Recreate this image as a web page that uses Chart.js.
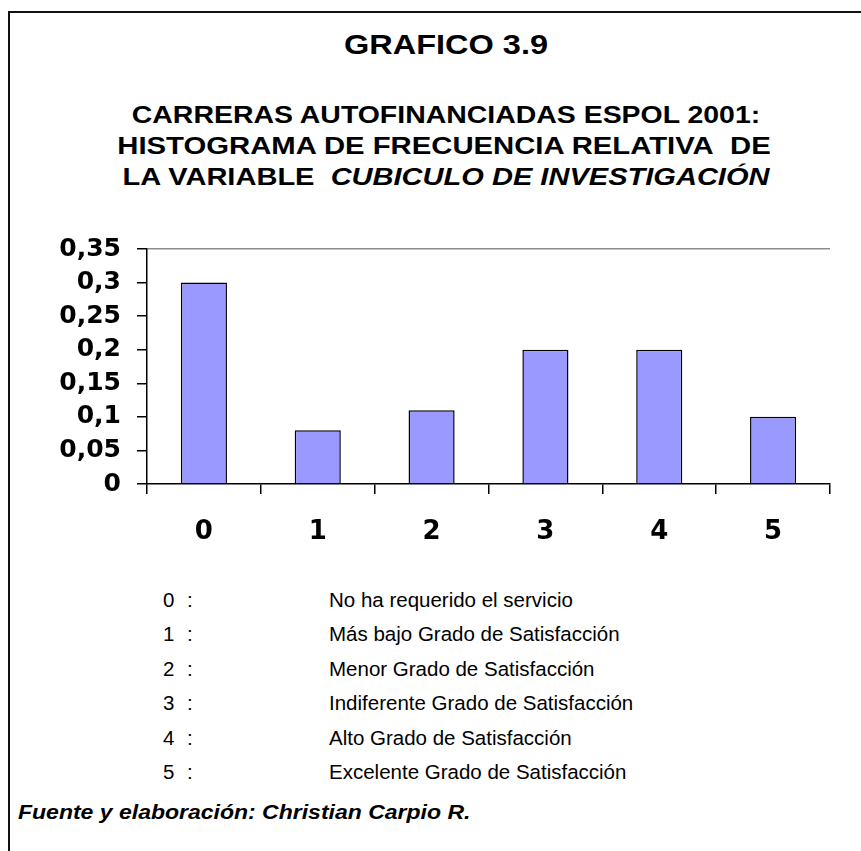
<!DOCTYPE html>
<html>
<head>
<meta charset="utf-8">
<script src="https://cdn.jsdelivr.net/npm/chart.js@4.4.1/dist/chart.umd.min.js"></script>
<style>
  html, body { margin: 0; padding: 0; background: #fff; }
  #page { position: relative; width: 861px; height: 851px; overflow: hidden; background: #fff; font-family: "Liberation Sans", Arial, sans-serif; color: #000; }
  #frameTop { position: absolute; left: 8px; top: 11px; width: 853px; height: 0; border-top: 2px solid #111; }
  #frameLeft { position: absolute; left: 8px; top: 11px; width: 0; height: 840px; border-left: 2px solid #111; }
  .ctr { position: absolute; white-space: nowrap; font-weight: bold; line-height: 1; }
  #chartBox { position: absolute; left: 0; top: 230px; width: 861px; height: 320px; }
  .legRow { position: absolute; font-size: 20.5px; white-space: nowrap; line-height: 1; transform: translateY(-50%); }
  #foot { position: absolute; left: 18px; top: 812px; transform-origin: 0 50%; transform: translateY(-50%) scaleX(1.15); font-weight: bold; font-style: italic; font-size: 20px; white-space: nowrap; line-height: 1; }
</style>
</head>
<body>
<div id="page">
  <div id="frameTop"></div>
  <div id="frameLeft"></div>
  <div id="title" class="ctr" style="left:446px; top:45px; font-size:28px; transform: translate(-50%,-50%) scaleX(1.16);"></div>
  <div id="sub1" class="ctr" style="left:446px; top:115px; font-size:24px; transform: translate(-50%,-50%) scaleX(1.185);"></div>
  <div id="sub2" class="ctr" style="left:444px; top:146px; font-size:24px; transform: translate(-50%,-50%) scaleX(1.22);"></div>
  <div id="sub3" class="ctr" style="left:446px; top:177px; font-size:24px; transform: translate(-50%,-50%) scaleX(1.21);"></div>
  <div id="chartBox"><canvas id="c" width="861" height="320"></canvas></div>
  <div id="legend"></div>
  <div id="foot"></div>
</div>
<script>
// ---- data ----
const titleText = "GRAFICO 3.9";
const subtitleLines = ["CARRERAS AUTOFINANCIADAS ESPOL 2001:", "HISTOGRAMA DE FRECUENCIA RELATIVA\u00a0 DE"];
const subtitleLine3Plain = "LA VARIABLE\u00a0\u00a0";
const subtitleLine3Italic = "CUBICULO DE INVESTIGACIÓN";
const categories = ["0", "1", "2", "3", "4", "5"];
const relativeFrequency = [0.30, 0.08, 0.11, 0.20, 0.20, 0.10];
const yTickLabels = ["0", "0,05", "0,1", "0,15", "0,2", "0,25", "0,3", "0,35"];
const legendCodes = ["0", "1", "2", "3", "4", "5"];
const legendTexts = [
  "No ha requerido el servicio",
  "Más bajo Grado de Satisfacción",
  "Menor Grado de Satisfacción",
  "Indiferente Grado de Satisfacción",
  "Alto Grado de Satisfacción",
  "Excelente Grado de Satisfacción"
];
const sourceText = "Fuente y elaboración: Christian Carpio R.";

// ---- text ----
document.getElementById('title').textContent = titleText;
document.getElementById('sub1').textContent = subtitleLines[0];
document.getElementById('sub2').textContent = subtitleLines[1];
const s3 = document.getElementById('sub3');
s3.appendChild(document.createTextNode(subtitleLine3Plain));
const it = document.createElement('i'); it.textContent = subtitleLine3Italic; s3.appendChild(it);
const leg = document.getElementById('legend');
legendCodes.forEach((code, i) => {
  const y = 600 + i * 34.4;
  const a = document.createElement('div');
  a.className = 'legRow'; a.style.left = '163px'; a.style.top = y + 'px';
  a.textContent = code;
  const colon = document.createElement('div');
  colon.className = 'legRow'; colon.style.left = '187px'; colon.style.top = y + 'px';
  colon.textContent = ":";
  const b = document.createElement('div');
  b.className = 'legRow'; b.style.left = '329px'; b.style.top = y + 'px';
  b.textContent = legendTexts[i];
  leg.appendChild(a); leg.appendChild(colon); leg.appendChild(b);
});
document.getElementById('foot').textContent = sourceText;

// ---- chart ----
const gray = '#8c8c8c';
new Chart(document.getElementById('c'), {
  type: 'bar',
  data: {
    labels: categories,
    datasets: [{
      data: relativeFrequency,
      backgroundColor: '#9999FF',
      borderColor: '#000000',
      borderWidth: 1.5,
      barPercentage: 0.405,
      categoryPercentage: 1.0
    }]
  },
  options: {
    responsive: false,
    animation: false,
    layout: { padding: { left: 0, right: 31, top: 19, bottom: 0 } },
    plugins: { legend: { display: false }, tooltip: { enabled: false }, title: { display: false } },
    scales: {
      x: {
        offset: true,
        grid: {
          offset: true,
          drawOnChartArea: true,
          color: (c) => (c.index === categories.length ? gray : 'rgba(0,0,0,0)'),
          tickColor: '#000',
          tickLength: 10,
          lineWidth: 1.5
        },
        border: { display: true, color: '#000', width: 1.5 },
        ticks: {
          color: '#000',
          font: { family: 'DejaVu Sans', weight: 'bold', size: 26 },
          padding: 23,
          maxRotation: 0,
          autoSkip: false
        },
        afterFit: (s) => { s.height = 66; s.paddingLeft = 0; s.paddingRight = 0; }
      },
      y: {
        min: 0,
        max: 0.35,
        grid: {
          drawOnChartArea: true,
          color: (c) => (c.index === yTickLabels.length - 1 ? gray : 'rgba(0,0,0,0)'),
          tickColor: '#000',
          tickLength: 10,
          lineWidth: 1.5
        },
        border: { display: true, color: '#000', width: 1.5 },
        ticks: {
          stepSize: 0.05,
          autoSkip: false,
          color: '#000',
          font: { family: 'DejaVu Sans', weight: 'bold', size: 25, lineHeight: 1 },
          padding: 16,
          callback: (v, i) => yTickLabels[i]
        },
        afterFit: (s) => { s.width = 147; s.paddingTop = 0; s.paddingBottom = 0; }
      }
    }
  }
});
</script>
</body>
</html>
